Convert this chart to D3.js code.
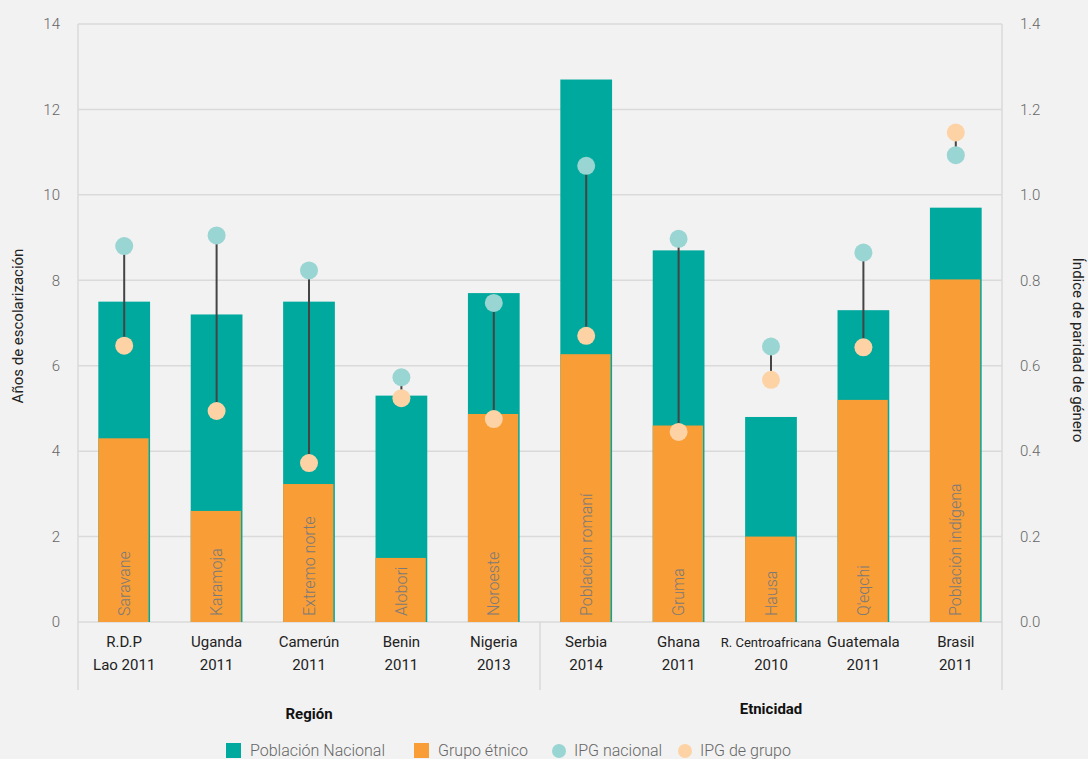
<!DOCTYPE html>
<html><head><meta charset="utf-8">
<script src="https://cdn.jsdelivr.net/npm/d3@7"></script>
<style>
html,body{margin:0;padding:0;background:#f2f2f2;overflow:hidden}
text{font-family:Roboto,"Noto Sans",sans-serif}
</style></head><body>
<svg id="c" width="1088" height="759"></svg>
<script>
const countries = ["R.D.P|Lao 2011","Uganda|2011","Camerún|2011","Benin|2011","Nigeria|2013","Serbia|2014","Ghana|2011","R. Centroafricana|2010","Guatemala|2011","Brasil|2011"];
const groups = ["Saravane","Karamoja","Extremo norte","Alobori","Noroeste","Población romaní","Gruma","Hausa","Q'eqchi","Población indígena"];
const nationalYears = [7.5,7.2,7.5,5.3,7.7,12.7,8.7,4.8,7.3,9.7];
const groupYears = [4.3,2.6,3.23,1.5,4.87,6.27,4.6,2.0,5.2,8.02];
const ipgNational = [0.88,0.905,0.823,0.573,0.747,1.068,0.897,0.645,0.865,1.093];
const ipgGroup = [0.647,0.494,0.372,0.524,0.475,0.67,0.445,0.567,0.643,1.146];
const leftTicks = [0,2,4,6,8,10,12,14];
const rightTicks = [0,0.2,0.4,0.6,0.8,1.0,1.2,1.4];
const sections = [{name:"Región",from:0,to:4},{name:"Etnicidad",from:5,to:9}];
const legendItems = [{t:"Población Nacional",c:"#00a99d",s:"rect"},{t:"Grupo étnico",c:"#f99d36",s:"rect"},{t:"IPG nacional",c:"#99d5d2",s:"circle"},{t:"IPG de grupo",c:"#fdd3a5",s:"circle"}];

const svg = d3.select("#c");
const L=78,R=1002,T=24,B=622;
const x = d3.scaleBand().domain(d3.range(countries.length)).range([L,R]).paddingInner(0.44).paddingOuter(0.22);
const y = d3.scaleLinear().domain([0,14]).range([B,T]);
const y2 = d3.scaleLinear().domain([0,1.4]).range([B,T]);
const grid="#dadada";

svg.append("g").selectAll("line").data(leftTicks).join("line")
  .attr("x1",L).attr("x2",R).attr("y1",d=>y(d)).attr("y2",d=>y(d))
  .attr("stroke",grid).attr("stroke-width",1.5);
svg.append("line").attr("x1",L).attr("x2",L).attr("y1",T).attr("y2",690).attr("stroke",grid).attr("stroke-width",1.5);
svg.append("line").attr("x1",R).attr("x2",R).attr("y1",T).attr("y2",690).attr("stroke",grid).attr("stroke-width",1.5);
const sepX = (x(4)+x.bandwidth()+x(5))/2;
svg.append("line").attr("x1",sepX).attr("x2",sepX).attr("y1",B).attr("y2",690).attr("stroke",grid).attr("stroke-width",1.5);

const la = svg.append("g").attr("transform",`translate(${L},0)`).call(d3.axisLeft(y).tickValues(leftTicks).tickSize(0).tickPadding(18));
la.select(".domain").remove();
la.selectAll("text").attr("fill","#666").attr("font-size",15).attr("font-weight",300);
const ra = svg.append("g").attr("transform",`translate(${R},0)`).call(d3.axisRight(y2).tickValues(rightTicks).tickFormat(d3.format(".1f")).tickSize(0).tickPadding(18));
ra.select(".domain").remove();
ra.selectAll("text").attr("fill","#666").attr("font-size",15).attr("font-weight",300);

const bw = x.bandwidth();
svg.append("g").selectAll("rect").data(nationalYears).join("rect")
  .attr("x",(d,i)=>x(i)).attr("width",bw).attr("y",d=>y(d)).attr("height",d=>B-y(d)).attr("fill","#00a99d");
svg.append("g").selectAll("rect").data(groupYears).join("rect")
  .attr("x",(d,i)=>x(i)).attr("width",bw-1.5).attr("y",d=>y(d)).attr("height",d=>B-y(d)).attr("fill","#f99d36");

svg.append("g").selectAll("text").data(groups).join("text")
  .attr("transform",(d,i)=>`translate(${x(i)+bw/2+5.5},${B-6}) rotate(-90)`)
  .attr("fill","#7a7a7a").attr("font-size",16).attr("font-weight",300).text(d=>d);

const cx = i=>x(i)+bw/2;
svg.append("g").selectAll("line").data(ipgNational).join("line")
  .attr("x1",(d,i)=>cx(i)).attr("x2",(d,i)=>cx(i)).attr("y1",d=>y2(d)).attr("y2",(d,i)=>y2(ipgGroup[i]))
  .attr("stroke","#444").attr("stroke-width",2);
svg.append("g").selectAll("circle").data(ipgNational).join("circle")
  .attr("cx",(d,i)=>cx(i)).attr("cy",d=>y2(d)).attr("r",9).attr("fill","#99d5d2");
svg.append("g").selectAll("circle").data(ipgGroup).join("circle")
  .attr("cx",(d,i)=>cx(i)).attr("cy",d=>y2(d)).attr("r",9).attr("fill","#fdd3a5");

const cl = svg.append("g").selectAll("text").data(countries).join("text")
  .attr("text-anchor","middle").attr("fill","#222").attr("font-size",(d,i)=>d.startsWith("R. C")?13:15);
cl.each(function(d,i){
  const p=d.split("|"); const t=d3.select(this);
  t.append("tspan").attr("x",cx(i)).attr("y",647).text(p[0]);
  t.append("tspan").attr("x",cx(i)).attr("y",670).attr("font-size",15).text(p[1]);
});
svg.append("g").selectAll("text").data(sections).join("text")
  .attr("x",(d,i)=>i===0?(L+sepX)/2:(sepX+R)/2).attr("y",(d,i)=>i===0?719:714)
  .attr("text-anchor","middle").attr("font-weight",700).attr("font-size",15).attr("fill","#111").text(d=>d.name);

svg.append("text").attr("transform",`translate(23,326) rotate(-90)`).attr("text-anchor","middle")
  .attr("font-size",15).attr("fill","#222").text("Años de escolarización");
svg.append("text").attr("transform",`translate(1073,350) rotate(90)`).attr("text-anchor","middle")
  .attr("font-size",15).attr("fill","#222").text("Índice de paridad de género");

const lx=[226,414,552,678];
const lg = svg.append("g").selectAll("g").data(legendItems).join("g").attr("transform",(d,i)=>`translate(${lx[i]},750)`);
lg.each(function(d){
  const g=d3.select(this);
  if(d.s==="rect") g.append("rect").attr("x",0).attr("y",-7).attr("width",15).attr("height",15).attr("fill",d.c);
  else g.append("circle").attr("cx",7).attr("cy",1).attr("r",7).attr("fill",d.c);
  g.append("text").attr("x",d.s==="rect"?24:22).attr("y",6).attr("fill","#666").attr("font-size",16).attr("font-weight",300).text(d.t);
});
</script></body></html>
